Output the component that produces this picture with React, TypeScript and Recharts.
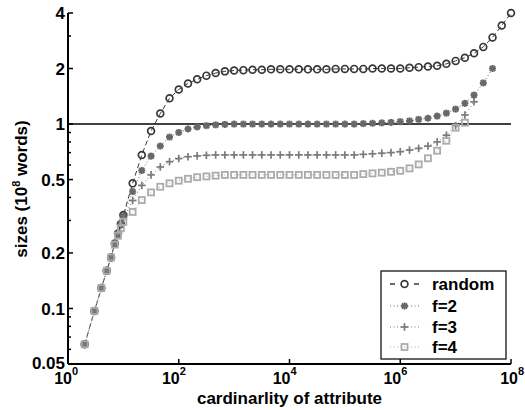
import React from "react";
import { LineChart, Line, XAxis, YAxis, ReferenceLine } from "recharts";

const FONT = "'Liberation Sans', Arial, Helvetica, sans-serif";

// cardinality of attribute (x), shared by the curves
const CARDINALITY = [
  2, 3, 4, 5, 6, 7, 8, 9, 10,
  14.7, 21.5, 31.6, 46.4, 68.1, 100, 147, 215, 316, 464, 681,
  1e3, 1.47e3, 2.15e3, 3.16e3, 4.64e3, 6.81e3,
  1e4, 1.47e4, 2.15e4, 3.16e4, 4.64e4, 6.81e4,
  1e5, 1.47e5, 2.15e5, 3.16e5, 4.64e5, 6.81e5,
  1e6, 1.47e6, 2.15e6, 3.16e6, 4.64e6, 6.81e6,
  1e7, 1.47e7, 2.15e7, 3.16e7, 4.64e7, 6.81e7, 1e8,
];

// sizes in 10^8 words
const RANDOM_SIZES = [
  0.064, 0.097, 0.129, 0.16, 0.189, 0.225, 0.255, 0.287, 0.321,
  0.477, 0.68, 0.917, 1.14, 1.38, 1.54, 1.66, 1.75, 1.83, 1.89, 1.93,
  1.95, 1.96, 1.97, 1.97, 1.98, 1.98,
  1.98, 1.98, 1.98, 1.98, 1.98, 1.99,
  1.99, 1.99, 1.99, 2.0, 2.0, 2.0,
  2.0, 2.02, 2.035, 2.05, 2.07, 2.12,
  2.2, 2.29, 2.42, 2.62, 2.95, 3.42, 4.0,
];

const F2_SIZES = [
  0.064, 0.097, 0.129, 0.16, 0.189, 0.225, 0.255, 0.286, 0.318,
  0.43, 0.56, 0.67, 0.76, 0.85, 0.9, 0.94, 0.965, 0.98, 0.99, 0.995,
  1.0, 1.0, 1.0, 1.0, 1.0, 1.0,
  1.0, 1.0, 1.0, 1.0, 1.0, 1.0,
  1.0, 1.0, 1.005, 1.01, 1.015, 1.02,
  1.03, 1.04, 1.06, 1.075, 1.105, 1.145,
  1.205, 1.295, 1.435, 1.67, 2.0,
];

const F3_SIZES = [
  0.064, 0.097, 0.129, 0.16, 0.189, 0.225, 0.253, 0.282, 0.308,
  0.385, 0.465, 0.53, 0.585, 0.625, 0.65, 0.665, 0.672, 0.677, 0.68, 0.68,
  0.68, 0.68, 0.68, 0.68, 0.68, 0.68,
  0.68, 0.68, 0.68, 0.68, 0.68, 0.68,
  0.68, 0.68, 0.685, 0.69, 0.695, 0.7,
  0.708, 0.723, 0.738, 0.76, 0.8, 0.87,
  0.98, 1.12, 1.32,
];

const F4_CARDINALITY = [...CARDINALITY.slice(0, 47), 2.5e7];
const F4_SIZES = [
  0.064, 0.097, 0.129, 0.16, 0.189, 0.222, 0.248, 0.272, 0.295,
  0.334, 0.387, 0.426, 0.457, 0.477, 0.493, 0.505, 0.515, 0.52, 0.525, 0.53,
  0.53, 0.53, 0.53, 0.53, 0.53, 0.53,
  0.53, 0.53, 0.53, 0.53, 0.53, 0.53,
  0.53, 0.53, 0.535, 0.54, 0.545, 0.551,
  0.558, 0.575, 0.604, 0.652, 0.717, 0.812,
  0.955, 1.017,
];

const X_TICKS = [1, 1e2, 1e4, 1e6, 1e8];
const Y_MAJOR = [0.05, 0.1, 0.2, 0.5, 1, 2, 4];
const Y_MINOR = [0.06, 0.07, 0.08, 0.09, 0.3, 0.4, 0.6, 0.7, 0.8, 0.9, 3];
const Y_TICKS = [...Y_MAJOR, ...Y_MINOR].sort((a, b) => a - b);

type MarkerKind = "circle" | "star" | "plus" | "square";

const SERIES: {
  name: string;
  xs: number[];
  ys: number[];
  color: string;
  dash: string;
  marker: MarkerKind;
}[] = [
  { name: "random", xs: CARDINALITY, ys: RANDOM_SIZES, color: "#383838", dash: "5 3", marker: "circle" },
  { name: "f=2", xs: CARDINALITY, ys: F2_SIZES, color: "#686868", dash: "1 2.5", marker: "star" },
  { name: "f=3", xs: CARDINALITY, ys: F3_SIZES, color: "#7a7a7a", dash: "1 2.5", marker: "plus" },
  { name: "f=4", xs: F4_CARDINALITY, ys: F4_SIZES, color: "#ababab", dash: "1 2.5", marker: "square" },
];

function Marker({ kind, cx, cy, color }: { kind: MarkerKind; cx: number; cy: number; color: string }) {
  if (kind === "circle") {
    return <circle cx={cx} cy={cy} r={3.4} fill="none" stroke={color} strokeWidth={1.7} />;
  }
  if (kind === "star") {
    const d = 3.5;
    const e = 2.6;
    return (
      <g stroke={color} strokeWidth={2.1}>
        <line x1={cx - d} y1={cy} x2={cx + d} y2={cy} />
        <line x1={cx} y1={cy - d} x2={cx} y2={cy + d} />
        <line x1={cx - e} y1={cy - e} x2={cx + e} y2={cy + e} />
        <line x1={cx - e} y1={cy + e} x2={cx + e} y2={cy - e} />
      </g>
    );
  }
  if (kind === "plus") {
    const d = 3.8;
    return (
      <g stroke={color} strokeWidth={1.7}>
        <line x1={cx - d} y1={cy} x2={cx + d} y2={cy} />
        <line x1={cx} y1={cy - d} x2={cx} y2={cy + d} />
      </g>
    );
  }
  return <rect x={cx - 3} y={cy - 3} width={6} height={6} fill="none" stroke={color} strokeWidth={1.8} />;
}

const tickText = { fontFamily: FONT, fontWeight: 700, fill: "#000" };

function BottomTick(props: any) {
  const { x, y, payload } = props;
  const exp = Math.round(Math.log10(payload.value));
  // the first label sits clear of the 0.05 label, the last one is pushed to the right as in the source
  const shift = payload.value === 1e8 ? 7 : payload.value === 1 ? 4 : 1;
  return (
    <g>
      <line x1={x} x2={x} y1={y} y2={y - 5} stroke="#000" strokeWidth={1.5} />
      <text x={x + shift} y={y + 20} textAnchor="end" fontSize={16} {...tickText}>
        10
      </text>
      <text x={x + shift} y={y + 11} textAnchor="start" fontSize={11} {...tickText}>
        {exp}
      </text>
    </g>
  );
}

function TopTick(props: any) {
  const { x, y } = props;
  return <line x1={x} x2={x} y1={y} y2={y + 5} stroke="#000" strokeWidth={1.5} />;
}

function LeftTick(props: any) {
  const { x, y, payload } = props;
  const major = Y_MAJOR.includes(payload.value);
  return (
    <g>
      <line x1={x} x2={x + (major ? 5 : 3)} y1={y} y2={y} stroke="#000" strokeWidth={1.5} />
      {major && (
        <text x={x - 3} y={payload.value === 0.05 ? y - 1.5 : y} dy="0.36em" textAnchor="end" fontSize={17} {...tickText}>
          {payload.value}
        </text>
      )}
    </g>
  );
}

function RightTick(props: any) {
  const { x, y, payload } = props;
  const major = Y_MAJOR.includes(payload.value);
  return <line x1={x} x2={x - (major ? 5 : 3)} y1={y} y2={y} stroke="#000" strokeWidth={1.5} />;
}

function Legend() {
  const rowY = [13, 35, 56, 76];
  return (
    <g transform="translate(381,271)">
      <rect x={0} y={0} width={125} height={88} fill="#fff" stroke="#000" strokeWidth={1.2} />
      {SERIES.map((s, i) => (
        <g key={s.name}>
          <line
            x1={9}
            x2={38}
            y1={rowY[i]}
            y2={rowY[i]}
            stroke={s.color}
            strokeWidth={s.marker === "circle" ? 1.5 : 1.2}
            strokeDasharray={s.marker === "circle" ? "5 19" : "1 2.5"}
          />
          <Marker kind={s.marker} cx={23.5} cy={rowY[i]} color={s.color} />
          <text x={51} y={rowY[i] + 6} fontSize={17} {...tickText}>
            {s.name}
          </text>
        </g>
      ))}
    </g>
  );
}

export default function App() {
  return (
    <div style={{ position: "relative", width: 525, height: 410, background: "#fff" }}>
      <style>{"body{margin:0}"}</style>
      <LineChart width={525} height={410} margin={{ top: 13, right: 14, bottom: 0, left: 0 }}>
        <XAxis
          xAxisId={0}
          dataKey="x"
          type="number"
          scale="log"
          domain={[1, 1e8]}
          ticks={X_TICKS}
          interval={0}
          tickSize={0}
          tickMargin={0}
          height={46}
          tickLine={false}
          axisLine={{ stroke: "#000", strokeWidth: 2 }}
          tick={BottomTick}
        />
        <XAxis
          xAxisId="top"
          orientation="top"
          dataKey="x"
          type="number"
          scale="log"
          domain={[1, 1e8]}
          ticks={X_TICKS}
          interval={0}
          tickSize={0}
          tickMargin={0}
          height={0}
          tickLine={false}
          axisLine={{ stroke: "#000", strokeWidth: 2 }}
          tick={TopTick}
        />
        <YAxis
          yAxisId={0}
          type="number"
          scale="log"
          domain={[0.05, 4]}
          ticks={Y_TICKS}
          interval={0}
          tickSize={0}
          tickMargin={0}
          width={68}
          tickLine={false}
          axisLine={{ stroke: "#000", strokeWidth: 2 }}
          tick={LeftTick}
        />
        <YAxis
          yAxisId="right"
          orientation="right"
          type="number"
          scale="log"
          domain={[0.05, 4]}
          ticks={Y_TICKS}
          interval={0}
          tickSize={0}
          tickMargin={0}
          width={0}
          tickLine={false}
          axisLine={{ stroke: "#000", strokeWidth: 2 }}
          tick={RightTick}
        />
        <ReferenceLine y={1} stroke="#000" strokeWidth={1.4} />
        {SERIES.map((s) => (
          <Line
            key={s.name}
            data={s.ys.map((y, i) => ({ x: s.xs[i], y }))}
            dataKey="y"
            type="linear"
            stroke={s.color}
            strokeWidth={1}
            strokeDasharray={s.dash}
            isAnimationActive={false}
            activeDot={false}
            dot={(p: any) => (
              <Marker key={`${s.name}-${p.index}`} kind={s.marker} cx={p.cx} cy={p.cy} color={s.color} />
            )}
          />
        ))}
      </LineChart>
      <svg
        width={525}
        height={410}
        style={{ position: "absolute", left: 0, top: 0, pointerEvents: "none" }}
      >
        <text
          transform="translate(27,189) rotate(-90)"
          textAnchor="middle"
          fontSize={17}
          {...tickText}
        >
          sizes (10
          <tspan dy={-7} fontSize={11}>8</tspan>
          <tspan dy={7}> words)</tspan>
        </text>
        <text x={289.5} y={404} textAnchor="middle" fontSize={17} {...tickText}>
          cardinarlity of attribute
        </text>
        <Legend />
      </svg>
    </div>
  );
}
